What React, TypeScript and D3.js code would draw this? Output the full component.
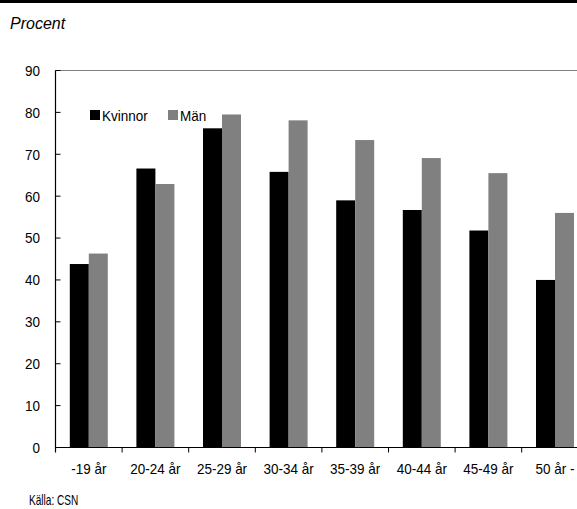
import React from "react";
import * as d3 from "d3";

const categories = ["-19 år", "20-24 år", "25-29 år", "30-34 år", "35-39 år", "40-44 år", "45-49 år", "50 år -"];
const kvinnor = [43.8, 66.6, 76.2, 65.8, 59.0, 56.7, 51.8, 40.0];
const man = [46.3, 62.9, 79.5, 78.1, 73.4, 69.1, 65.5, 56.0];
const seriesNames = ["Kvinnor", "Män"];
const yTicks = [0, 10, 20, 30, 40, 50, 60, 70, 80, 90];

const W = 577;
const H = 509;
const left = 55.5;
const bandW = 66.6;
const y0 = 447.5;
const yTop = 70.5;
const sans = "'Liberation Sans', Arial, sans-serif";
const colors = ["#000000", "#808080"];

function T({ x, y, anchor = "start", size = 15, sx = 0.9, children }: any) {
  return (
    <text
      transform={`translate(${x},${y}) scale(${sx},1)`}
      textAnchor={anchor}
      fontFamily={sans}
      fontSize={size}
      fill="#000"
    >
      {children}
    </text>
  );
}

export default function App() {
  const x = d3.scaleBand<string>().domain(categories).range([left, left + bandW * categories.length]).padding(0);
  const xs = d3.scaleBand<string>().domain(seriesNames).range([14.3, bandW - 14.3]).padding(0);
  const y = d3.scaleLinear().domain([0, 90]).range([y0, yTop]);
  const series = [kvinnor, man];

  return (
    <svg width={W} height={H} style={{ position: "absolute", left: 0, top: 0, background: "#fff" }}>
      <rect x={0} y={0} width={W} height={3} fill="#000" />
      <text x={10} y={28.5} fontFamily={sans} fontStyle="italic" fontSize={16} fill="#000">
        Procent
      </text>
      <line x1={left} x2={W} y1={yTop} y2={yTop} stroke="#808080" strokeWidth={1} />
      {categories.map((c, i) =>
        series.map((s, j) => (
          <rect
            key={c + j}
            x={(x(c) as number) + (xs(seriesNames[j]) as number)}
            y={y(s[i])}
            width={xs.bandwidth()}
            height={y0 - y(s[i])}
            fill={colors[j]}
          />
        ))
      )}
      <line x1={left} x2={left} y1={yTop} y2={y0 + 5} stroke="#000" strokeWidth={1.2} />
      {yTicks.map((t) => (
        <g key={t}>
          {t > 0 && <line x1={left} x2={left + 5} y1={y(t)} y2={y(t)} stroke="#000" strokeWidth={1} />}
          <T x={40} y={y(t) + 5.4} anchor="end">
            {t}
          </T>
        </g>
      ))}
      <line x1={left} x2={W} y1={y0} y2={y0} stroke="#000" strokeWidth={1.2} />
      {categories.slice(1).map((c) => (
        <line key={c} x1={x(c) as number} x2={x(c) as number} y1={y0} y2={y0 + 5} stroke="#000" strokeWidth={1} />
      ))}
      {categories.map((c) => (
        <T key={c} x={(x(c) as number) + x.bandwidth() / 2} y={473.5} anchor="middle">
          {c}
        </T>
      ))}
      {seriesNames.map((n, j) => (
        <g key={n} transform={`translate(${j === 0 ? 90 : 168},110)`}>
          <rect x={0} y={0} width={10} height={10} fill={colors[j]} />
          <T x={12} y={10.8}>
            {n}
          </T>
        </g>
      ))}
      <T x={29} y={505} size={14} sx={0.72}>
        Källa: CSN
      </T>
    </svg>
  );
}
